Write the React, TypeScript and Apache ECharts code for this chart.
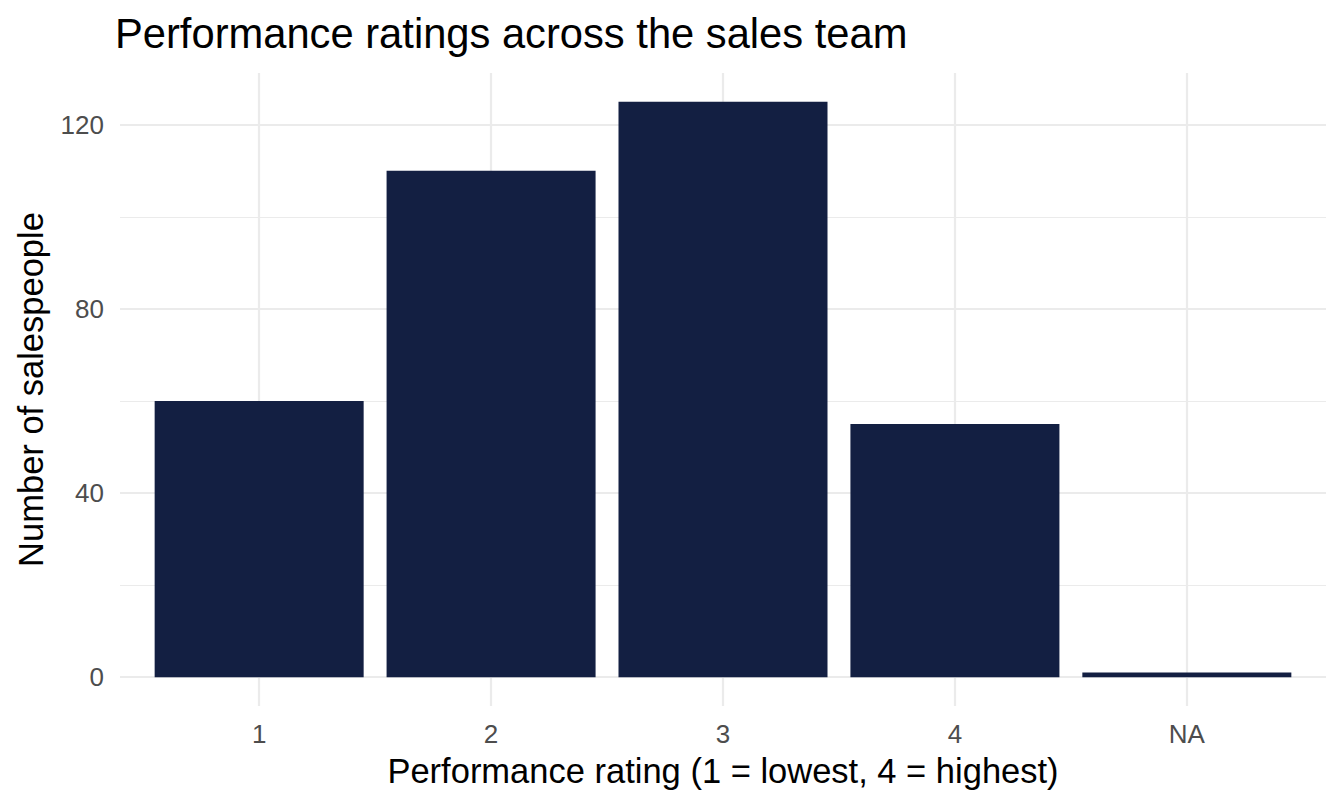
import React, { useEffect, useRef } from "react";
import * as echarts from "echarts";

const categories: string[] = ["1", "2", "3", "4", "NA"];
const counts: number[] = [60, 110, 125, 55, 1];
const yMajorTicks: number[] = [0, 40, 80, 120];
const yMinorTicks: number[] = [20, 60, 100];
const xPositions: number[] = [1, 2, 3, 4, 5];

const TITLE = "Performance ratings across the sales team";
const X_TITLE = "Performance rating (1 = lowest, 4 = highest)";
const Y_TITLE = "Number of salespeople";

const FONT = "'Liberation Sans', Arial, Helvetica, sans-serif";
const W = 1344;
const H = 806;
const GRID_LEFT = 120;
const GRID_RIGHT = 18;
const GRID_TOP = 73;
const GRID_BOTTOM = 100;

export default function App() {
  const ref = useRef<HTMLDivElement>(null);
  useEffect(() => {
    if (!ref.current) return;
    const chart = echarts.init(ref.current, null, { renderer: "svg", width: W, height: H });
    const seriesData = xPositions.map((x, i) => [x, counts[i]]);
    const panelCenterX = GRID_LEFT + (W - GRID_LEFT - GRID_RIGHT) / 2;
    const panelCenterY = GRID_TOP + (H - GRID_TOP - GRID_BOTTOM) / 2;
    chart.setOption({
      animation: false,
      backgroundColor: "#ffffff",
      title: {
        text: TITLE,
        left: 115,
        top: 12,
        padding: 0,
        textStyle: { fontSize: 41.7, fontWeight: "normal", color: "#000000", fontFamily: FONT },
      },
      grid: {
        left: GRID_LEFT,
        right: GRID_RIGHT,
        top: GRID_TOP,
        bottom: GRID_BOTTOM,
        containLabel: false,
        outerBoundsMode: "none",
      },
      xAxis: {
        type: "value",
        min: 0.4,
        max: 5.6,
        axisLine: { show: false },
        axisTick: { show: false, customValues: xPositions },
        axisLabel: {
          customValues: xPositions,
          formatter: (v: number) => categories[Math.round(v) - 1] ?? "",
          color: "#4d4d4d",
          fontSize: 26,
          fontFamily: FONT,
          margin: 15,
        },
        splitLine: { show: true, lineStyle: { color: "#ebebeb", width: 2.2 } },
      },
      yAxis: [
        {
          type: "value",
          min: -6.25,
          max: 131.25,
          axisLine: { show: false },
          axisTick: { show: false, customValues: yMajorTicks },
          axisLabel: {
            customValues: yMajorTicks,
            color: "#4d4d4d",
            fontSize: 26,
            fontFamily: FONT,
            margin: 16,
          },
          splitLine: { show: true, lineStyle: { color: "#ebebeb", width: 2.2 } },
        },
        {
          type: "value",
          min: -6.25,
          max: 131.25,
          position: "left",
          axisLine: { show: false },
          axisTick: { show: false, customValues: yMinorTicks },
          axisLabel: { show: false, customValues: yMinorTicks },
          splitLine: { show: true, lineStyle: { color: "#ebebeb", width: 1.1 } },
        },
      ],
      graphic: [
        {
          type: "text",
          x: panelCenterX,
          y: 771,
          style: {
            text: X_TITLE,
            fontSize: 34.5,
            fontFamily: FONT,
            fill: "#000000",
            align: "center",
            verticalAlign: "middle",
          },
        },
        {
          type: "text",
          x: 31,
          y: panelCenterY,
          rotation: Math.PI / 2,
          style: {
            text: Y_TITLE,
            fontSize: 34.5,
            fontFamily: FONT,
            fill: "#000000",
            align: "center",
            verticalAlign: "middle",
          },
        },
      ],
      series: [
        {
          type: "bar",
          xAxisIndex: 0,
          yAxisIndex: 0,
          data: seriesData,
          barWidth: 209,
          itemStyle: { color: "#131f42" },
          emphasis: { disabled: true },
        },
      ],
    });
    return () => chart.dispose();
  }, []);
  return (
    <div
      ref={ref}
      style={{ position: "fixed", left: 0, top: 0, width: W, height: H, background: "#fff" }}
    />
  );
}
